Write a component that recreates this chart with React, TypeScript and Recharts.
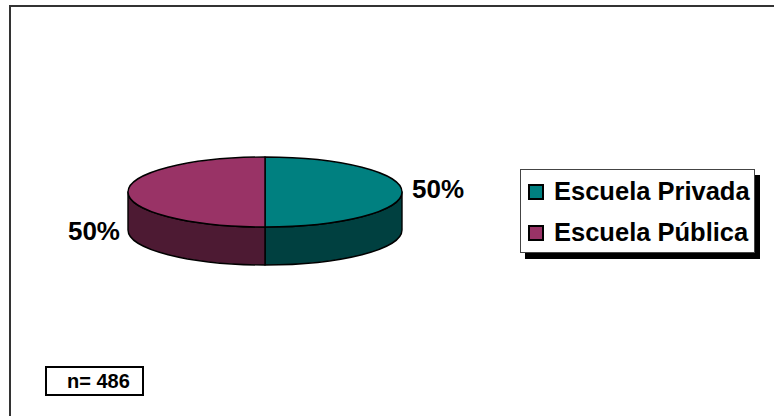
import { Legend, Pie, PieChart } from "recharts";

const categories = ["Escuela Privada", "Escuela Pública"];
const shares = [50, 50];
const topColors = ["#008080", "#993366"];
const sideColors = ["#004040", "#4d1a33"];
const sampleSize = 486;

const data = categories.map((name, i) => ({
  name,
  value: shares[i],
  fill: topColors[i],
  side: sideColors[i],
}));

// flattening of the disc and height of the wall (3D look)
const TILT = 35 / 137;
const DEPTH = 38;
const RAD = Math.PI / 180;
const FONT = "'Liberation Sans', Arial, sans-serif";

function pt(cx: number, cy: number, r: number, deg: number, dy = 0) {
  const x = cx + r * Math.cos(deg * RAD);
  const y = cy - r * TILT * Math.sin(deg * RAD) + dy;
  return `${x.toFixed(2)},${y.toFixed(2)}`;
}

function Slice3D(props: any) {
  const { cx, cy, outerRadius: r, startAngle, endAngle } = props;
  const fill = props.payload?.fill ?? props.fill;
  const side = props.payload?.side ?? props.side ?? "#333";
  const s = Math.max(startAngle, endAngle);
  const e = Math.min(startAngle, endAngle);
  const ry = r * TILT;

  // visible front wall: the part of the slice in the lower half of the ellipse
  const walls: string[] = [];
  for (const k of [-1, 0, 1]) {
    const hi = Math.min(s, 360 * k);
    const lo = Math.max(e, -180 + 360 * k);
    if (hi > lo) {
      walls.push(
        `M${pt(cx, cy, r, hi)} A${r},${ry} 0 0 1 ${pt(cx, cy, r, lo)} ` +
          `L${pt(cx, cy, r, lo, DEPTH)} A${r},${ry} 0 0 0 ${pt(cx, cy, r, hi, DEPTH)} Z`
      );
    }
  }
  const large = s - e > 180 ? 1 : 0;
  const top = `M${cx},${cy} L${pt(cx, cy, r, s)} A${r},${ry} 0 ${large} 1 ${pt(cx, cy, r, e)} Z`;

  return (
    <g>
      {walls.map((d, i) => (
        <path key={i} d={d} fill={side} stroke="#000" strokeWidth={1.4} strokeLinejoin="round" />
      ))}
      <path d={top} fill={fill} stroke="#000" strokeWidth={1.4} strokeLinejoin="round" />
    </g>
  );
}

function renderLabel(props: any) {
  const { cx, cy, outerRadius, midAngle, percent } = props;
  const right = Math.cos(midAngle * RAD) >= 0;
  const x = right ? cx + outerRadius + 10 : cx - outerRadius - 8;
  const y = right ? cy - 3 : cy + DEPTH + 1;
  return (
    <text
      x={x}
      y={y}
      textAnchor={right ? "start" : "end"}
      dominantBaseline="central"
      fill="#000"
      style={{ font: `bold 26px ${FONT}` }}
    >
      {`${Math.round(percent * 100)}%`}
    </text>
  );
}

function LegendBox({ payload }: any) {
  const items = (payload ?? []).length
    ? payload.map((p: any) => ({ name: p.value, color: p.color }))
    : categories.map((name, i) => ({ name, color: topColors[i] }));
  return (
    <div
      style={{
        width: 235,
        height: 84,
        boxSizing: "border-box",
        border: "1px solid #444",
        background: "#fff",
        boxShadow: "5px 6px 0 #000",
        paddingTop: 1,
      }}
    >
      {items.map((it: any) => (
        <div key={it.name} style={{ display: "flex", alignItems: "center", height: 41 }}>
          <span
            style={{
              display: "inline-block",
              flex: "none",
              width: 16,
              height: 16,
              boxSizing: "border-box",
              marginLeft: 7,
              marginRight: 10,
              background: it.color,
              border: "2px solid #000",
            }}
          />
          <span style={{ font: `bold 25.5px ${FONT}`, color: "#000", whiteSpace: "nowrap" }}>{it.name}</span>
        </div>
      ))}
    </div>
  );
}

export default function App() {
  return (
    <div style={{ position: "absolute", left: 0, top: 0, width: 774, height: 416, overflow: "hidden", background: "#fff" }}>
      <div
        style={{
          position: "absolute",
          left: 9,
          top: 5,
          width: 800,
          height: 450,
          border: "2px solid #333",
        }}
      />
      <div style={{ position: "absolute", left: 0, top: 0 }}>
        <PieChart width={774} height={416} margin={{ top: 0, right: 0, bottom: 0, left: 0 }}>
          <Pie
            data={data}
            dataKey="value"
            nameKey="name"
            cx={265}
            cy={192}
            outerRadius={137}
            startAngle={90}
            endAngle={-270}
            label={renderLabel}
            labelLine={false}
            shape={Slice3D}
            isAnimationActive={false}
          />
          <Legend
            content={LegendBox}
            layout="vertical"
            verticalAlign="middle"
            align="center"
            wrapperStyle={{ left: 520, top: 169, width: 235 }}
          />
        </PieChart>
      </div>
      <div
        style={{
          position: "absolute",
          left: 45,
          top: 366,
          width: 99,
          height: 30,
          boxSizing: "border-box",
          border: "2px solid #000",
          background: "#fff",
          font: `bold 20px ${FONT}`,
          lineHeight: "26px",
          paddingLeft: 20,
          color: "#000",
        }}
      >
        {`n= ${sampleSize}`}
      </div>
    </div>
  );
}
